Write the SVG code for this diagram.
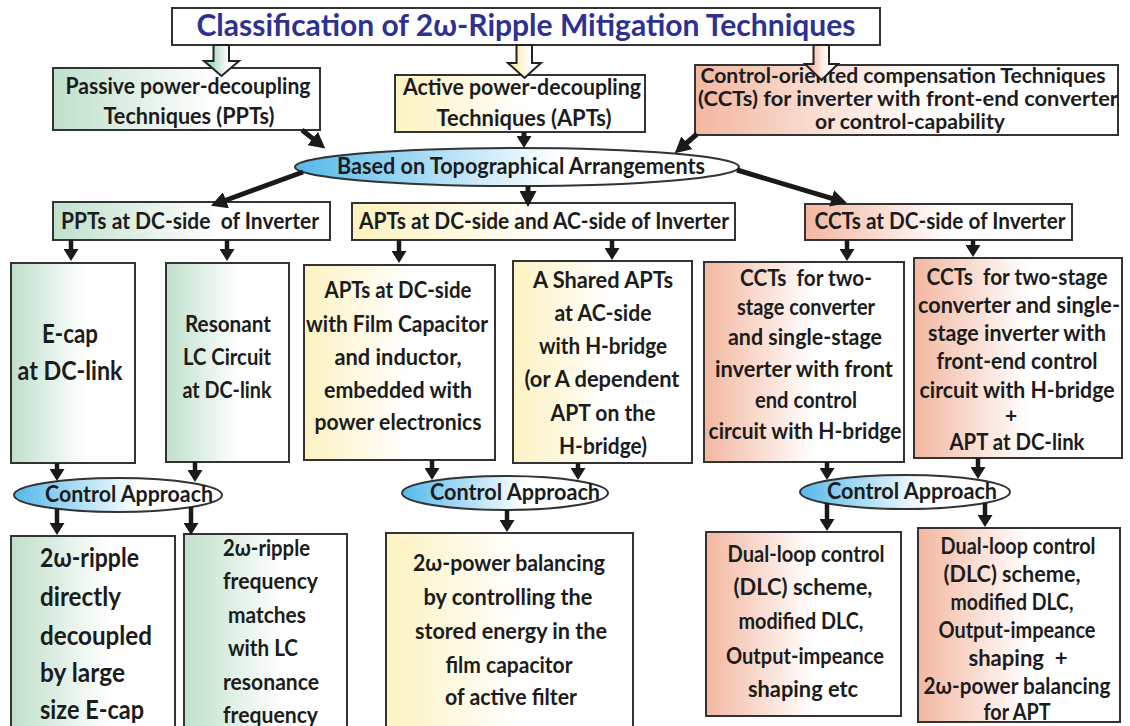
<svg xmlns="http://www.w3.org/2000/svg" width="1130" height="726" viewBox="0 0 1130 726">
<style>
.bx{stroke:#333;stroke-width:2}
.t{font-family:Lato,"Open Sans","Liberation Sans",sans-serif;font-weight:700;fill:#1c1c1c;text-anchor:middle;white-space:pre}
.l{text-anchor:start}
.f21{font-size:21px}.f22{font-size:22px}.f23{font-size:23px}.f26{font-size:26px}
.c{stroke:#1a1a1a;fill:none}
.w5{stroke-width:5}.w4{stroke-width:4.5}
.ho{stroke:#222;stroke-width:2}
</style>
<defs>
<linearGradient id="gG" x1="0" y1="0" x2="1" y2="0"><stop offset="0" stop-color="#bfe0cb"/><stop offset="0.6" stop-color="#fff"/></linearGradient>
<linearGradient id="gY" x1="0" y1="0" x2="1" y2="0"><stop offset="0" stop-color="#fdf2c0"/><stop offset="0.55" stop-color="#fff"/></linearGradient>
<linearGradient id="gP" x1="0" y1="0" x2="1" y2="0"><stop offset="0" stop-color="#f3b7a0"/><stop offset="0.55" stop-color="#fff"/></linearGradient>
<linearGradient id="gB" x1="0" y1="0" x2="1" y2="0"><stop offset="0" stop-color="#55b9ea"/><stop offset="0.6" stop-color="#fff"/></linearGradient>
<linearGradient id="hG" x1="0" y1="0" x2="1" y2="0"><stop offset="0.2" stop-color="#a9d9bd"/><stop offset="0.7" stop-color="#fff"/></linearGradient>
<linearGradient id="hY" x1="0" y1="0" x2="1" y2="0"><stop offset="0.2" stop-color="#fbeeb4"/><stop offset="0.7" stop-color="#fff"/></linearGradient>
<linearGradient id="hP" x1="0" y1="0" x2="1" y2="0"><stop offset="0.2" stop-color="#f4c0ab"/><stop offset="0.7" stop-color="#fff"/></linearGradient>
<marker id="ah" markerUnits="userSpaceOnUse" markerWidth="16" markerHeight="17" viewBox="0 0 16 17" refX="1" refY="8.5" orient="auto"><path d="M0,0 L16,8.5 L0,17 z" fill="#1a1a1a"/></marker>
<marker id="as" markerUnits="userSpaceOnUse" markerWidth="12" markerHeight="15" viewBox="0 0 12 15" refX="1" refY="7.5" orient="auto"><path d="M0,0 L12,7.5 L0,15 z" fill="#1a1a1a"/></marker>
</defs>
<rect width="1130" height="726" fill="#fff"/>

<g id="title">
<rect class="bx" x="172" y="8" width="708" height="37" fill="#fff"/>
<text x="526" y="36" font-family="Lato,'Open Sans',sans-serif" font-weight="700" font-size="31" fill="#2e3192" text-anchor="middle" textLength="659" lengthAdjust="spacingAndGlyphs">Classification of 2ω-Ripple Mitigation Techniques</text>
</g>

<g id="ppt">
<rect class="bx" x="53" y="68" width="267" height="62" fill="url(#gG)"/>
<text class="t f22" x="188" y="94" textLength="245" lengthAdjust="spacingAndGlyphs">Passive power-decoupling</text>
<text class="t f22" x="189" y="124" textLength="171" lengthAdjust="spacingAndGlyphs">Techniques (PPTs)</text>
</g>

<g id="apt">
<rect class="bx" x="395" y="75" width="250" height="57" fill="url(#gY)"/>
<text class="t f22" x="522" y="95" textLength="238" lengthAdjust="spacingAndGlyphs">Active power-decoupling</text>
<text class="t f22" x="524" y="126" textLength="175" lengthAdjust="spacingAndGlyphs">Techniques (APTs)</text>
</g>

<g id="cct">
<rect class="bx" x="695" y="65" width="423" height="70" fill="url(#gP)"/>
<text class="t f21" x="903" y="83" textLength="405" lengthAdjust="spacingAndGlyphs">Control-oriented compensation Techniques</text>
<text class="t f21" x="908" y="106" textLength="420" lengthAdjust="spacingAndGlyphs">(CCTs) for inverter with front-end converter</text>
<text class="t f21" x="910" y="129" textLength="190" lengthAdjust="spacingAndGlyphs">or control-capability</text>
</g>

<g id="hollow-arrows">
<path class="ho" fill="url(#hG)" d="M213.5,45 H229 V61 H239 L221.5,76 L204,61 H213.5 Z"/>
<path class="ho" fill="url(#hY)" d="M516.5,45 H532 V63 H541 L524.5,78 L508,63 H516.5 Z"/>
<path class="ho" fill="url(#hP)" d="M813.5,45 H829 V64 H838 L821.5,80 L805,64 H813.5 Z"/>
</g>

<g id="topo">
<ellipse class="bx" cx="517" cy="167" rx="222" ry="19" fill="url(#gB)" stroke-width="1.5"/>
<text class="t f22" x="521" y="174" textLength="368" lengthAdjust="spacingAndGlyphs">Based on Topographical Arrangements</text>
</g>

<g id="ppt-dc">
<rect class="bx" x="53" y="202" width="277" height="38" fill="url(#gG)"/>
<text class="t f23" x="190" y="229" textLength="258" lengthAdjust="spacingAndGlyphs">PPTs at DC-side  of Inverter</text>
</g>
<g id="apt-dcac">
<rect class="bx" x="352" y="203" width="383" height="37" fill="url(#gY)"/>
<text class="t f23" x="544" y="229" textLength="370" lengthAdjust="spacingAndGlyphs">APTs at DC-side and AC-side of Inverter</text>
</g>
<g id="cct-dc">
<rect class="bx" x="805" y="204" width="267" height="36" fill="url(#gP)"/>
<text class="t f23" x="940" y="229" textLength="251" lengthAdjust="spacingAndGlyphs">CCTs at DC-side of Inverter</text>
</g>

<g id="ecap">
<rect class="bx" x="11" y="263" width="124" height="200" fill="url(#gG)"/>
<text class="t f26" x="70" y="343" textLength="56" lengthAdjust="spacingAndGlyphs">E-cap</text>
<text class="t f26" x="70" y="380" textLength="105" lengthAdjust="spacingAndGlyphs">at DC-link</text>
</g>
<g id="resonant">
<rect class="bx" x="166" y="263" width="123" height="199" fill="url(#gG)"/>
<text class="t f22" x="228" y="332" textLength="86" lengthAdjust="spacingAndGlyphs">Resonant</text>
<text class="t f22" x="227" y="365" textLength="88" lengthAdjust="spacingAndGlyphs">LC Circuit</text>
<text class="t f22" x="227" y="398" textLength="89" lengthAdjust="spacingAndGlyphs">at DC-link</text>
</g>
<g id="apt-film">
<rect class="bx" x="304" y="265" width="191" height="195" fill="url(#gY)"/>
<text class="t f22" x="398" y="298" textLength="147" lengthAdjust="spacingAndGlyphs">APTs at DC-side</text>
<text class="t f22" x="397" y="332" textLength="182" lengthAdjust="spacingAndGlyphs">with Film Capacitor</text>
<text class="t f22" x="398" y="365" textLength="127" lengthAdjust="spacingAndGlyphs">and inductor,</text>
<text class="t f22" x="398" y="398" textLength="148" lengthAdjust="spacingAndGlyphs">embedded with</text>
<text class="t f22" x="398" y="430" textLength="167" lengthAdjust="spacingAndGlyphs">power electronics</text>
</g>
<g id="apt-shared">
<rect class="bx" x="513" y="261" width="179" height="202" fill="url(#gY)"/>
<text class="t f23" x="603" y="288" textLength="140" lengthAdjust="spacingAndGlyphs">A Shared APTs</text>
<text class="t f23" x="603" y="321" textLength="97" lengthAdjust="spacingAndGlyphs">at AC-side</text>
<text class="t f23" x="603" y="354" textLength="128" lengthAdjust="spacingAndGlyphs">with H-bridge</text>
<text class="t f23" x="602" y="387" textLength="155" lengthAdjust="spacingAndGlyphs">(or A dependent</text>
<text class="t f23" x="603" y="421" textLength="105" lengthAdjust="spacingAndGlyphs">APT on the</text>
<text class="t f23" x="603" y="454" textLength="88" lengthAdjust="spacingAndGlyphs">H-bridge)</text>
</g>
<g id="cct-two">
<rect class="bx" x="704" y="262" width="200" height="200" fill="url(#gP)"/>
<text class="t f22" x="806" y="286" textLength="132" lengthAdjust="spacingAndGlyphs">CCTs  for two-</text>
<text class="t f22" x="806" y="315" textLength="138" lengthAdjust="spacingAndGlyphs">stage converter</text>
<text class="t f22" x="805" y="345" textLength="154" lengthAdjust="spacingAndGlyphs">and single-stage</text>
<text class="t f22" x="804" y="377" textLength="178" lengthAdjust="spacingAndGlyphs">inverter with front</text>
<text class="t f22" x="806" y="408" textLength="102" lengthAdjust="spacingAndGlyphs">end control</text>
<text class="t f22" x="805" y="439" textLength="193" lengthAdjust="spacingAndGlyphs">circuit with H-bridge</text>
</g>
<g id="cct-two-apt">
<rect class="bx" x="914" y="258" width="208" height="200" fill="url(#gP)"/>
<text class="t f22" x="1017" y="285" textLength="181" lengthAdjust="spacingAndGlyphs">CCTs  for two-stage</text>
<text class="t f22" x="1019" y="313" textLength="202" lengthAdjust="spacingAndGlyphs">converter and single-</text>
<text class="t f22" x="1017" y="341" textLength="178" lengthAdjust="spacingAndGlyphs">stage inverter with</text>
<text class="t f22" x="1017" y="369" textLength="161" lengthAdjust="spacingAndGlyphs">front-end control</text>
<text class="t f22" x="1017" y="398" textLength="195" lengthAdjust="spacingAndGlyphs">circuit with H-bridge</text>
<text class="t f21" x="1011" y="423">+</text>
<text class="t f22" x="1017" y="450" textLength="135" lengthAdjust="spacingAndGlyphs">APT at DC-link</text>
</g>

<g id="ctrl-1">
<ellipse class="bx" cx="118" cy="495" rx="104" ry="17" fill="url(#gB)" stroke-width="1.5"/>
<text class="t f22" x="129" y="502" textLength="168" lengthAdjust="spacingAndGlyphs">Control Approach</text>
</g>
<g id="ctrl-2">
<ellipse class="bx" cx="505" cy="493" rx="103" ry="17" fill="url(#gB)" stroke-width="1.5"/>
<text class="t f22" x="515" y="500" textLength="170" lengthAdjust="spacingAndGlyphs">Control Approach</text>
</g>
<g id="ctrl-3">
<ellipse class="bx" cx="905" cy="492" rx="105" ry="17" fill="url(#gB)" stroke-width="1.5"/>
<text class="t f22" x="912" y="499" textLength="170" lengthAdjust="spacingAndGlyphs">Control Approach</text>
</g>

<g id="res-ecap">
<rect class="bx" x="11" y="536" width="164" height="200" fill="url(#gG)"/>
<text class="t l f26" x="40" y="567" textLength="99" lengthAdjust="spacingAndGlyphs">2ω-ripple</text>
<text class="t l f26" x="40" y="606" textLength="81" lengthAdjust="spacingAndGlyphs">directly</text>
<text class="t l f26" x="40" y="645" textLength="112" lengthAdjust="spacingAndGlyphs">decoupled</text>
<text class="t l f26" x="40" y="682" textLength="85" lengthAdjust="spacingAndGlyphs">by large</text>
<text class="t l f26" x="40" y="719" textLength="104" lengthAdjust="spacingAndGlyphs">size E-cap</text>
</g>
<g id="res-lc">
<rect class="bx" x="184" y="534" width="163" height="200" fill="url(#gG)"/>
<text class="t l f22" x="223" y="556" textLength="87" lengthAdjust="spacingAndGlyphs">2ω-ripple</text>
<text class="t l f22" x="223" y="589" textLength="95" lengthAdjust="spacingAndGlyphs">frequency</text>
<text class="t l f22" x="228" y="623" textLength="78" lengthAdjust="spacingAndGlyphs">matches</text>
<text class="t l f22" x="228" y="656" textLength="70" lengthAdjust="spacingAndGlyphs">with LC</text>
<text class="t l f22" x="223" y="690" textLength="96" lengthAdjust="spacingAndGlyphs">resonance</text>
<text class="t l f22" x="223" y="723" textLength="95" lengthAdjust="spacingAndGlyphs">frequency</text>
</g>
<g id="res-apt">
<rect class="bx" x="386" y="533" width="247" height="200" fill="url(#gY)"/>
<text class="t f23" x="509" y="571" textLength="192" lengthAdjust="spacingAndGlyphs">2ω-power balancing</text>
<text class="t f23" x="508" y="605" textLength="169" lengthAdjust="spacingAndGlyphs">by controlling the</text>
<text class="t f23" x="511" y="639" textLength="192" lengthAdjust="spacingAndGlyphs">stored energy in the</text>
<text class="t f23" x="509" y="673" textLength="127" lengthAdjust="spacingAndGlyphs">film capacitor</text>
<text class="t f23" x="511" y="705" textLength="132" lengthAdjust="spacingAndGlyphs">of active filter</text>
</g>
<g id="res-dlc">
<rect class="bx" x="706" y="532" width="195" height="184" fill="url(#gP)"/>
<text class="t f23" x="806" y="562" textLength="157" lengthAdjust="spacingAndGlyphs">Dual-loop control</text>
<text class="t f23" x="803" y="595" textLength="139" lengthAdjust="spacingAndGlyphs">(DLC) scheme,</text>
<text class="t f23" x="801" y="629" textLength="125" lengthAdjust="spacingAndGlyphs">modified DLC,</text>
<text class="t f23" x="805" y="664" textLength="158" lengthAdjust="spacingAndGlyphs">Output-impeance</text>
<text class="t f23" x="803" y="697" textLength="110" lengthAdjust="spacingAndGlyphs">shaping etc</text>
</g>
<g id="res-dlc-apt">
<rect class="bx" x="918" y="528" width="202" height="194" fill="url(#gP)"/>
<text class="t f22" x="1018" y="554" textLength="155" lengthAdjust="spacingAndGlyphs">Dual-loop control</text>
<text class="t f22" x="1012" y="582" textLength="137" lengthAdjust="spacingAndGlyphs">(DLC) scheme,</text>
<text class="t f22" x="1012" y="610" textLength="123" lengthAdjust="spacingAndGlyphs">modified DLC,</text>
<text class="t f22" x="1017" y="638" textLength="157" lengthAdjust="spacingAndGlyphs">Output-impeance</text>
<text class="t f22" x="1018" y="666" textLength="99" lengthAdjust="spacingAndGlyphs">shaping  +</text>
<text class="t f22" x="1017" y="694" textLength="187" lengthAdjust="spacingAndGlyphs">2ω-power balancing</text>
<text class="t f22" x="1017" y="720" textLength="67" lengthAdjust="spacingAndGlyphs">for APT</text>
</g>

<g id="connectors">
<line class="c w5" x1="302" y1="130" x2="313.5" y2="139.1" marker-end="url(#ah)"/>
<line class="c w5" x1="524" y1="132" x2="524" y2="137" marker-end="url(#as)"/>
<line class="c w5" x1="697" y1="134" x2="686.1" y2="143.5" marker-end="url(#ah)"/>
<line class="c w5" x1="303" y1="172" x2="225" y2="200.5" marker-end="url(#ah)"/>
<line class="c w5" x1="528" y1="186" x2="528" y2="192" marker-end="url(#ah)"/>
<line class="c w5" x1="737" y1="170" x2="832.6" y2="198.7" marker-end="url(#ah)"/>

<line class="c w4" x1="71" y1="240" x2="71" y2="250" marker-end="url(#as)"/>
<line class="c w4" x1="227" y1="240" x2="227" y2="250" marker-end="url(#as)"/>
<line class="c w4" x1="399" y1="240" x2="399" y2="252" marker-end="url(#as)"/>
<line class="c w4" x1="612" y1="240" x2="612" y2="249" marker-end="url(#as)"/>
<line class="c w4" x1="847" y1="240" x2="847" y2="250" marker-end="url(#as)"/>
<line class="c w4" x1="973" y1="240" x2="973" y2="246" marker-end="url(#as)"/>

<line class="c w4" x1="57" y1="463" x2="57" y2="470" marker-end="url(#as)"/>
<line class="c w4" x1="195" y1="462" x2="195" y2="471" marker-end="url(#as)"/>
<line class="c w4" x1="57" y1="509" x2="57" y2="524" marker-end="url(#as)"/>
<line class="c w4" x1="191" y1="507" x2="191" y2="524" marker-end="url(#as)"/>

<line class="c w4" x1="432" y1="460" x2="432" y2="469" marker-end="url(#as)"/>
<line class="c w4" x1="578" y1="463" x2="578" y2="469" marker-end="url(#as)"/>
<line class="c w4" x1="507" y1="510" x2="507" y2="521" marker-end="url(#as)"/>

<line class="c w4" x1="827" y1="462" x2="827" y2="469" marker-end="url(#as)"/>
<line class="c w4" x1="978" y1="458" x2="978" y2="468" marker-end="url(#as)"/>
<line class="c w4" x1="827" y1="503" x2="827" y2="520" marker-end="url(#as)"/>
<line class="c w4" x1="985" y1="503" x2="985" y2="516" marker-end="url(#as)"/>
</g>
</svg>
